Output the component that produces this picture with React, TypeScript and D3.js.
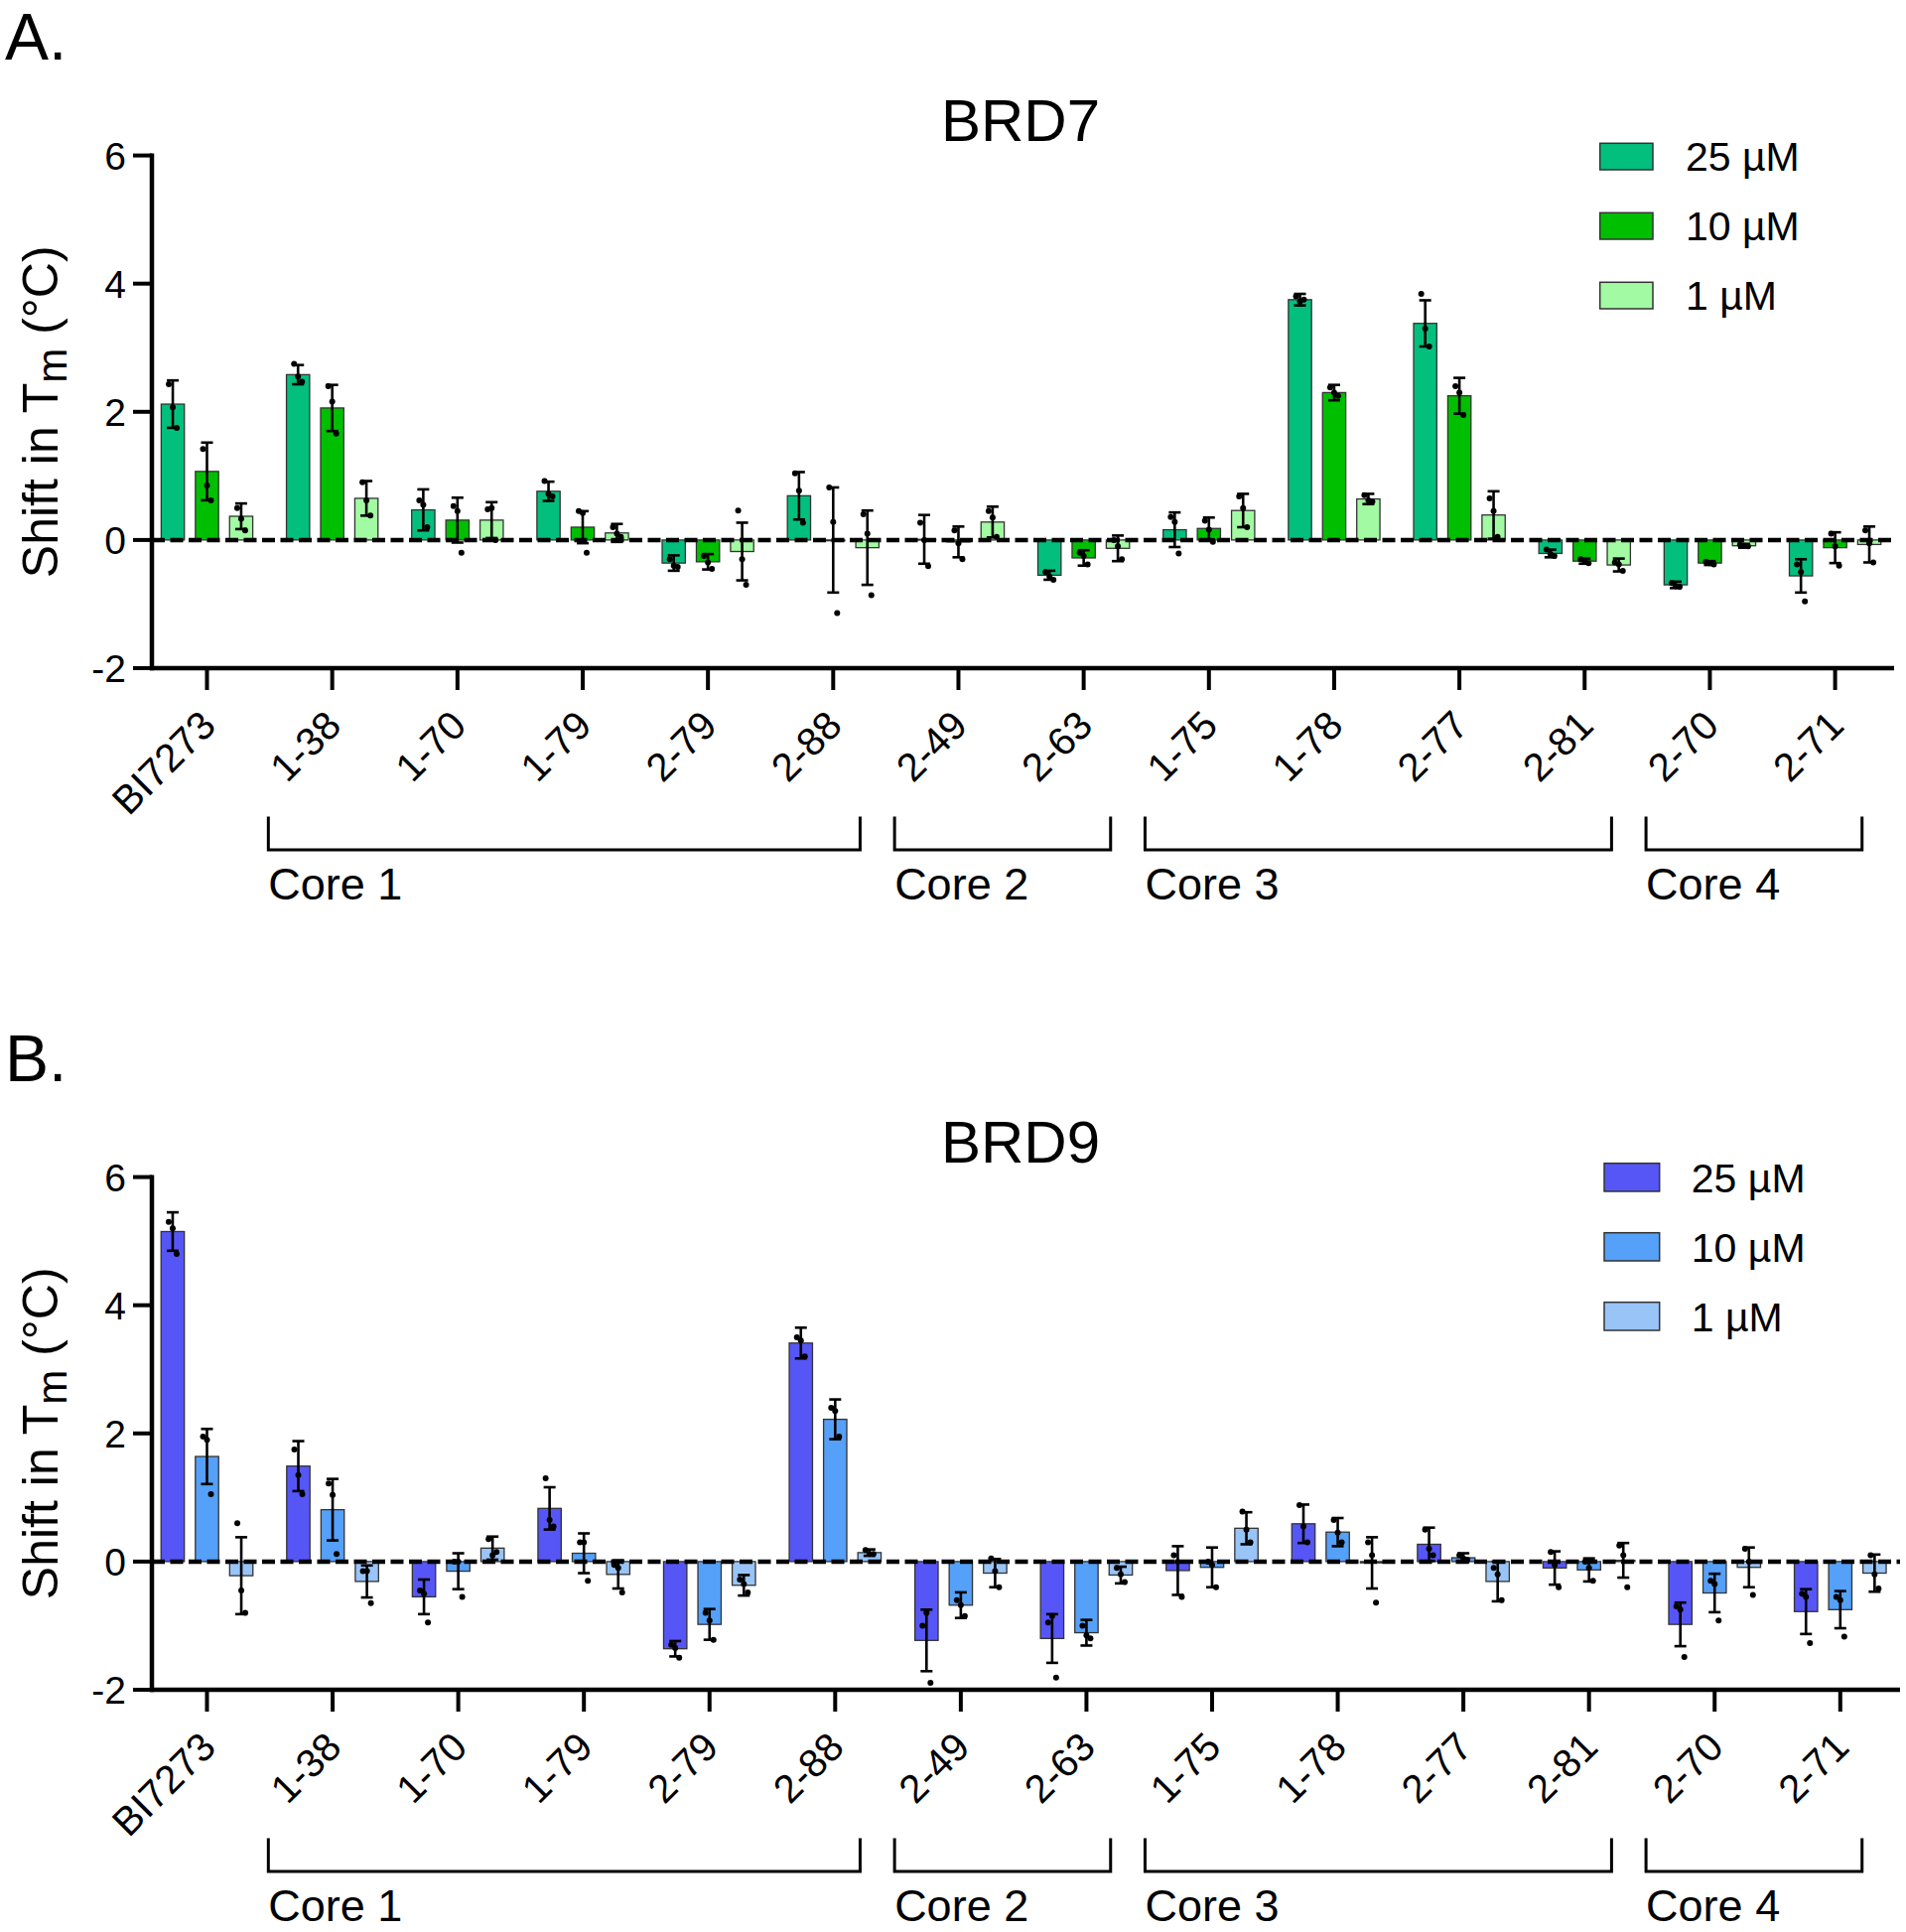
import React from "react";
import * as d3 from "d3";

// ---------- data ----------
const categories = ["BI7273", "1-38", "1-70", "1-79", "2-79", "2-88", "2-49", "2-63", "1-75", "1-78", "2-77", "2-81", "2-70", "2-71"];
const seriesNames = ["25 µM", "10 µM", "1 µM"];
const yTicks = [-2, 0, 2, 4, 6];

const coreNames = ["Core 1", "Core 2", "Core 3", "Core 4"];
const coreFirst = ["1-38", "2-49", "1-75", "2-70"];
const coreLast = ["2-88", "2-63", "2-81", "2-71"];

// BRD7
const brd7Mean25 = [2.12, 2.58, 0.47, 0.76, -0.36, 0.69, 0.01, -0.55, 0.16, 3.75, 3.38, -0.21, -0.70, -0.56];
const brd7Mean10 = [1.07, 2.06, 0.31, 0.20, -0.34, 0.0, -0.03, -0.28, 0.18, 2.30, 2.25, -0.33, -0.36, -0.12];
const brd7Mean1 = [0.37, 0.65, 0.31, 0.11, -0.18, -0.12, 0.28, -0.13, 0.46, 0.64, 0.39, -0.39, -0.09, -0.07];
const brd7Sd25 = [0.37, 0.15, 0.32, 0.15, 0.12, 0.37, 0.38, 0.07, 0.27, 0.09, 0.36, 0.06, 0.05, 0.26];
const brd7Sd10 = [0.45, 0.36, 0.35, 0.25, 0.12, 0.82, 0.24, 0.12, 0.17, 0.12, 0.28, 0.04, 0.03, 0.24];
const brd7Sd1 = [0.2, 0.27, 0.28, 0.14, 0.45, 0.58, 0.24, 0.2, 0.26, 0.08, 0.37, 0.1, 0.03, 0.28];
const brd7Pts25 = [[2.43, 2.07, 1.75], [2.75, 2.55, 2.47], [0.62, 0.55, 0.2], [0.92, 0.72, 0.68], [-0.3, -0.4, -0.42], [1.04, 0.77, 0.27], [0.27, 0.0, -0.41], [-0.5, -0.57, -0.62], [0.36, 0.28, -0.21], [3.8, 3.72, 3.75], [3.84, 3.3, 3.02], [-0.15, -0.22, -0.25], [-0.67, -0.72, -0.73], [-0.38, -0.5, -0.96]];
const brd7Pts10 = [[1.42, 0.85, 0.62], [2.4, 2.16, 1.66], [0.53, 0.45, -0.2], [0.45, 0.42, -0.2], [-0.25, -0.35, -0.45], [0.82, 0.28, -1.14], [0.15, -0.05, -0.3], [-0.2, -0.25, -0.38], [0.3, 0.16, -0.03], [2.38, 2.3, 2.25], [2.4, 2.3, 1.95], [-0.3, -0.33, -0.36], [-0.34, -0.36, -0.38], [0.1, -0.1, -0.4]];
const brd7Pts1 = [[0.5, 0.33, 0.15], [0.9, 0.62, 0.38], [0.48, 0.5, 0.0], [0.2, 0.1, 0.05], [0.46, -0.3, -0.7], [0.4, 0.1, -0.86], [0.45, 0.35, 0.05], [0.0, -0.1, -0.3], [0.68, 0.5, 0.2], [0.7, 0.62, 0.6], [0.65, 0.45, 0.05], [-0.35, -0.38, -0.48], [-0.07, -0.09, -0.1], [0.15, -0.05, -0.35]];

// BRD9
const brd9Mean25 = [5.15, 1.49, -0.55, 0.83, -1.36, 3.41, -1.23, -1.20, -0.14, 0.59, 0.27, -0.10, -0.98, -0.78];
const brd9Mean10 = [1.64, 0.81, -0.15, 0.13, -0.98, 2.22, -0.68, -1.11, -0.09, 0.46, 0.06, -0.13, -0.49, -0.75];
const brd9Mean1 = [-0.22, -0.31, 0.21, -0.20, -0.37, 0.14, -0.18, -0.21, 0.52, -0.02, -0.31, 0.02, -0.09, -0.18];
const brd9Sd25 = [0.3, 0.39, 0.27, 0.33, 0.12, 0.24, 0.48, 0.38, 0.38, 0.3, 0.26, 0.26, 0.34, 0.35];
const brd9Sd10 = [0.43, 0.48, 0.28, 0.31, 0.24, 0.31, 0.2, 0.2, 0.31, 0.22, 0.07, 0.18, 0.3, 0.29];
const brd9Sd1 = [0.6, 0.25, 0.18, 0.22, 0.16, 0.05, 0.22, 0.13, 0.25, 0.4, 0.31, 0.27, 0.31, 0.29];
const brd9Pts25 = [[5.3, 5.2, 4.8], [1.75, 1.35, 1.05], [-0.45, -0.5, -0.95], [1.3, 0.65, 0.55], [-1.3, -1.35, -1.5], [3.5, 3.45, 3.2], [-1.0, -0.8, -1.89], [-0.95, -0.85, -1.81], [0.1, 0.0, -0.55], [0.88, 0.55, 0.3], [0.5, 0.2, 0.1], [0.15, -0.05, -0.4], [-0.7, -0.75, -1.49], [-0.5, -0.55, -1.27]];
const brd9Pts10 = [[1.95, 1.9, 1.05], [1.22, 1.04, 0.12], [0.0, 0.0, -0.55], [0.3, 0.3, -0.3], [-0.8, -0.92, -1.22], [2.4, 2.35, 1.95], [-0.6, -0.68, -0.85], [-1.0, -1.15, -1.2], [0.0, -0.05, -0.4], [0.65, 0.45, 0.3], [0.1, 0.05, 0.03], [0.0, -0.1, -0.3], [-0.3, -0.35, -0.92], [-0.55, -0.6, -1.17]];
const brd9Pts1 = [[0.6, -0.45, -0.8], [-0.15, -0.15, -0.65], [0.35, 0.1, 0.15], [-0.05, -0.1, -0.48], [-0.28, -0.35, -0.48], [0.18, 0.12, 0.12], [0.05, -0.15, -0.4], [-0.1, -0.2, -0.32], [0.78, 0.5, 0.3], [0.3, 0.1, -0.64], [-0.1, -0.2, -0.6], [0.25, 0.1, -0.4], [0.2, 0.0, -0.52], [0.1, -0.2, -0.42]];

const greenColors = ["#03BF7E", "#00BF00", "#A2FAA2"];
const blueColors = ["#5656F7", "#55A0F8", "#98C4F8"];

const FONT = "'Liberation Sans', Arial, Helvetica, sans-serif";

type PanelProps = {
  oy: number;
  letter: string;
  title: string;
  means: number[][];
  sds: number[][];
  pts: number[][][];
  colors: string[];
  tickEnd: number;
  axisEnd: number;
  legX: number;
  legY: number;
  legW: number;
  legH: number;
  legTextX: number;
};

function Panel(p: PanelProps) {
  const { oy } = p;
  const x = d3.scalePoint<string>().domain(categories).range([208.5, p.tickEnd]);
  // brackets follow the same positions in both panels
  const xb = d3.scalePoint<string>().domain(categories).range([208.5, 1848.6]);
  const stepB = xb.step();
  const step = x.step();
  const sub = d3.scalePoint<string>().domain(seriesNames).range([-0.273 * step, 0.273 * step]);
  const barW = 0.185 * step;
  const y = d3.scaleLinear().domain([-2, 6]).range([673 + oy, 156.6 + oy]);
  const axisX = 153;
  const capW = 6;

  return (
    <g fontFamily={FONT}>
      <text x={5} y={60 + oy} fontSize={66}>{p.letter}</text>
      <text x={1028} y={142 + oy} fontSize={60} textAnchor="middle">{p.title}</text>

      {/* y label */}
      <text transform={`translate(58,${y(2)}) rotate(-90)`} fontSize={50} textAnchor="middle">
        Shift in T<tspan fontSize={42} dy={9}>m</tspan><tspan dy={-9}> (°C)</tspan>
      </text>

      {/* bars */}
      {seriesNames.map((s, si) =>
        categories.map((c, ci) => {
          const v = p.means[si][ci];
          const cx = (x(c) as number) + (sub(s) as number);
          const y0 = y(0);
          const y1 = y(v);
          return (
            <rect key={`b${si}-${ci}`} x={cx - barW / 2} y={Math.min(y0, y1)} width={barW}
              height={Math.max(Math.abs(y1 - y0), 0.8)} fill={p.colors[si]} stroke="#333" strokeWidth={1.3} />
          );
        })
      )}

      {/* error bars and points */}
      {seriesNames.map((s, si) =>
        categories.map((c, ci) => {
          const v = p.means[si][ci];
          const sd = p.sds[si][ci];
          const cx = (x(c) as number) + (sub(s) as number);
          const yt = y(v + sd);
          const yb = y(v - sd);
          return (
            <g key={`e${si}-${ci}`} stroke="#000" strokeWidth={2.6}>
              <line x1={cx} x2={cx} y1={yt} y2={yb} />
              <line x1={cx - capW} x2={cx + capW} y1={yt} y2={yt} />
              <line x1={cx - capW} x2={cx + capW} y1={yb} y2={yb} />
              {p.pts[si][ci].map((pv, pi) => (
                <circle key={pi} cx={cx + (pi - 1) * 4} cy={y(pv)} r={3} fill="#000" stroke="none" />
              ))}
            </g>
          );
        })
      )}

      {/* zero line */}
      <line x1={axisX} x2={p.axisEnd} y1={y(0)} y2={y(0)} stroke="#000" strokeWidth={4.5} strokeDasharray="13 5.5" />

      {/* axes */}
      <line x1={axisX} x2={axisX} y1={y(6) - 2} y2={y(-2) + 2.25} stroke="#000" strokeWidth={4.5} />
      <line x1={axisX - 2.25} x2={p.axisEnd} y1={y(-2)} y2={y(-2)} stroke="#000" strokeWidth={4.5} />
      {yTicks.map((t) => (
        <g key={`yt${t}`}>
          <line x1={134} x2={axisX} y1={y(t)} y2={y(t)} stroke="#000" strokeWidth={4} />
          <text x={127} y={y(t)} dy="0.36em" fontSize={39} textAnchor="end">{t}</text>
        </g>
      ))}
      {categories.map((c) => (
        <g key={`xt${c}`}>
          <line x1={x(c)} x2={x(c)} y1={y(-2)} y2={695 + oy} stroke="#000" strokeWidth={4} />
          <text transform={`translate(${(x(c) as number) + 11},${733 + oy}) rotate(-45)`} fontSize={40} textAnchor="end">{c}</text>
        </g>
      ))}

      {/* core brackets */}
      {coreNames.map((n, i) => {
        const x0 = (xb(coreFirst[i]) as number) - 0.51 * stepB;
        const x1 = (xb(coreLast[i]) as number) + 0.215 * stepB;
        return (
          <g key={n}>
            <path d={`M${x0},${822.6 + oy}V${856 + oy}H${x1}V${822.6 + oy}`} fill="none" stroke="#000" strokeWidth={3} />
            <text x={x0} y={906 + oy} fontSize={45}>{n}</text>
          </g>
        );
      })}

      {/* legend */}
      {seriesNames.map((s, si) => (
        <g key={`l${s}`}>
          <rect x={p.legX} y={p.legY + si * 70 + oy} width={p.legW} height={p.legH} fill={p.colors[si]} stroke="#333" strokeWidth={1.5} />
          <text x={p.legTextX} y={p.legY + si * 70 + p.legH / 2 + oy} dy="0.36em" fontSize={41}>{s}</text>
        </g>
      ))}
    </g>
  );
}

export default function App() {
  return (
    <svg width={1920} height={1946} style={{ position: "absolute", left: 0, top: 0, background: "#fff" }}>
      <rect width={1920} height={1946} fill="#fff" />
      <Panel oy={0} letter="A." title="BRD7"
        means={[brd7Mean25, brd7Mean10, brd7Mean1]}
        sds={[brd7Sd25, brd7Sd10, brd7Sd1]}
        pts={[brd7Pts25, brd7Pts10, brd7Pts1]}
        colors={greenColors} tickEnd={1848.6} axisEnd={1908}
        legX={1611.7} legY={144.3} legW={53.3} legH={26.7} legTextX={1698} />
      <Panel oy={1029} letter="B." title="BRD9"
        means={[brd9Mean25, brd9Mean10, brd9Mean1]}
        sds={[brd9Sd25, brd9Sd10, brd9Sd1]}
        pts={[brd9Pts25, brd9Pts10, brd9Pts1]}
        colors={blueColors} tickEnd={1853.8} axisEnd={1914}
        legX={1616} legY={142.7} legW={55.7} legH={28.3} legTextX={1703.8} />
    </svg>
  );
}
